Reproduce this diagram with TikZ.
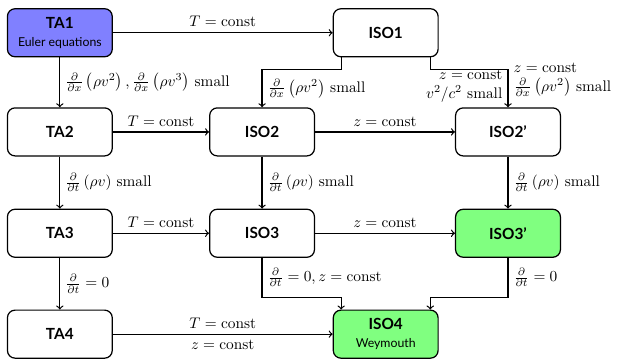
\documentclass[tikz,border=0pt]{standalone}
\usepackage{amsmath}
\usepackage{fontspec}
\setsansfont{Lato}
\usetikzlibrary{positioning,calc}
\tikzset{
	modelnode/.style={rectangle, rounded corners=5pt, draw=black, thick, minimum width=2.4cm, minimum height=1.1cm, align=center, font=\sffamily\bfseries},
	startnode/.style={modelnode, fill=blue!50},
	finalnode/.style={modelnode, fill=green!50},
	trans/.style={->, thick}
}
\newcommand{\ddx}{\frac{\partial}{\partial x}}
\newcommand{\ddt}{\frac{\partial}{\partial t}}
\newcommand{\subtxt}[1]{{\normalfont\sffamily\footnotesize #1}}

\begin{document}
\begin{tikzpicture}
		\useasboundingbox (0,0) rectangle (14.24,-8.2);
		% first column: TA models
		\node[startnode] at (1.37,-0.75) (TA1) {TA1\\ \subtxt{Euler equations}};
		\node[modelnode] at (1.37,-3.02) (TA2) {TA2};
		\node[modelnode] at (1.37,-5.34) (TA3) {TA3};
		\node[modelnode] at (1.37,-7.65) (TA4) {TA4};
		% isothermal models
		\node[modelnode] at (8.83,-0.75) (ISO1) {ISO1};
		\node[modelnode] at (6.0,-3.02) (ISO2) {ISO2};
		\node[modelnode] at (6.0,-5.34) (ISO3) {ISO3};
		\node[modelnode] at (11.63,-3.02) (ISO2p) {ISO2'};
		\node[finalnode] at (11.63,-5.34) (ISO3p) {ISO3'};
		\node[finalnode] at (8.83,-7.65) (ISO4) {ISO4\\ \subtxt{Weymouth}};
		% horizontal steps
		\draw[trans] (TA1) -- node[above] {$T = \mathrm{const}$} (ISO1);
		\draw[trans] (TA2) -- node[above] {$T = \mathrm{const}$} (ISO2);
		\draw[trans] (ISO2) -- node[above] {$z = \mathrm{const}$} (ISO2p);
		\draw[trans] (TA3) -- node[above] {$T = \mathrm{const}$} (ISO3);
		\draw[trans] (ISO3) -- node[above] {$z = \mathrm{const}$} (ISO3p);
		\draw[trans] (TA4) -- node[above] {$T = \mathrm{const}$} node[below] {$z = \mathrm{const}$} (ISO4);
		% vertical steps
		\draw[trans] (TA1) -- node[right] {$\ddx\left(\rho v^2\right), \ddx\left(\rho v^3\right)$ small} (TA2);
		\draw[trans] (TA2) -- node[right] {$\ddt\left(\rho v\right)$ small} (TA3);
		\draw[trans] (TA3) -- node[right] {$\ddt = 0$} (TA4);
		\draw[trans] (ISO2) -- node[right] {$\ddt\left(\rho v\right)$ small} (ISO3);
		\draw[trans] (ISO2p) -- node[right] {$\ddt\left(\rho v\right)$ small} (ISO3p);
		% elbow connectors
		\draw[trans] ([xshift=-1.02cm]ISO1.south) -- ++(0,-0.28) -| node[pos=0.75, right] {$\ddx\left(\rho v^2\right)$ small} (ISO2.north);
		\draw[trans] ([xshift=1.02cm]ISO1.south) -- ++(0,-0.28) -| node[pos=0.72, left, align=right] {$z = \mathrm{const}$\\ $v^2/c^2$ small} node[pos=0.64, right, align=left] {$z = \mathrm{const}$\\ $\ddx\left(\rho v^2\right)$ small} (ISO2p.north);
		\draw[trans] (ISO3.south) |- node[pos=0.25, right] {$\ddt = 0, z = \mathrm{const}$} ([xshift=-1.02cm,yshift=0.28cm]ISO4.north) -- ([xshift=-1.02cm]ISO4.north);
		\draw[trans] (ISO3p.south) |- node[pos=0.25, right] {$\ddt = 0$} ([xshift=1.02cm,yshift=0.28cm]ISO4.north) -- ([xshift=1.02cm]ISO4.north);
	\end{tikzpicture}
\end{document}
